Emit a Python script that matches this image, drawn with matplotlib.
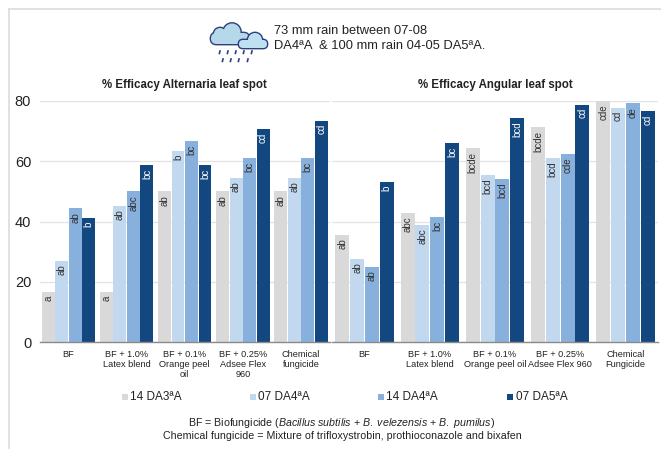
#!/usr/bin/env python3
import matplotlib
matplotlib.use('Agg')
import matplotlib.pyplot as plt
from matplotlib.patches import Circle, FancyBboxPatch, Rectangle

plt.rcParams['font.family'] = ['Liberation Sans', 'DejaVu Sans']
plt.rcParams['mathtext.fontset'] = 'custom'
plt.rcParams['mathtext.it'] = 'Liberation Sans:italic'
plt.rcParams['mathtext.rm'] = 'Liberation Sans'

W, H = 661, 449

# ── data ──────────────────────────────────────────────────────────────────────
series = ['14 DA3ªA', '07 DA4ªA', '14 DA4ªA', '07 DA5ªA']

cats_left = ['BF', 'BF + 1.0%\nLatex blend', 'BF + 0.1%\nOrange peel\noil',
             'BF + 0.25%\nAdsee Flex\n960', 'Chemical\nfungicide']
cats_right = ['BF', 'BF + 1.0%\nLatex blend', 'BF + 0.1%\nOrange peel oil',
              'BF + 0.25%\nAdsee Flex 960', 'Chemical\nFungicide']

alt_da3 = [16.7, 16.7, 50.0, 50.0, 50.0]
alt_da4a = [27.0, 45.3, 63.5, 54.5, 54.5]
alt_da4b = [44.4, 50.0, 66.7, 61.0, 61.0]
alt_da5 = [41.2, 58.8, 58.8, 70.6, 73.5]
alt_letters = [['a', 'a', 'ab', 'ab', 'ab'],
               ['ab', 'ab', 'b', 'ab', 'ab'],
               ['ab', 'abc', 'bc', 'bc', 'bc'],
               ['b', 'bc', 'bc', 'cd', 'cd']]

ang_da3 = [35.6, 42.8, 64.3, 71.4, 80.0]
ang_da4a = [27.6, 38.8, 55.5, 61.1, 77.8]
ang_da4b = [24.9, 41.5, 54.1, 62.4, 79.2]
ang_da5 = [53.0, 66.0, 74.5, 78.8, 76.6]
ang_letters = [['ab', 'abc', 'bcde', 'bcde', 'cde'],
               ['ab', 'abc', 'bcd', 'bcd', 'cd'],
               ['ab', 'bc', 'bcd', 'cde', 'de'],
               ['b', 'bc', 'bcd', 'cd', 'cd']]

# ── colours ───────────────────────────────────────────────────────────────────
COLORS = ['#D9D9D9', '#C2D8EE', '#88B0DC', '#13477F']
LABEL_COLORS = ['#333333', '#333333', '#333333', '#FFFFFF']
C_TEXT = '#222222'
C_GRID = '#E2E2E2'
C_BORDER = '#DCDCDC'
C_ICON = '#2E3F7F'

fig = plt.figure(figsize=(W / 100, H / 100), dpi=100)


def px_axes(x0, x1, y_top, y_bottom):
    return fig.add_axes([x0 / W, 1 - y_bottom / H, (x1 - x0) / W, (y_bottom - y_top) / H])


def draw_panel(ax, cats, values, letters, title, bar_frac):
    n = len(series)
    w = bar_frac / n
    for i, vals in enumerate(values):
        for j, v in enumerate(vals):
            x = j + (i - (n - 1) / 2) * w
            ax.bar(x, v, width=w * 0.95, color=COLORS[i], zorder=2)
            ax.text(x, v - 1.2, letters[i][j], rotation=90, ha='center', va='top',
                    fontsize=7, color=LABEL_COLORS[i], zorder=3)
    ax.set_xlim(-0.5, len(cats) - 0.5)
    ax.set_ylim(0, 80)
    ax.set_yticks([0, 20, 40, 60, 80])
    ax.yaxis.grid(True, color=C_GRID, lw=0.9, zorder=0)
    ax.set_axisbelow(True)
    ax.set_xticks(range(len(cats)))
    ax.set_xticklabels(cats, fontsize=6.6, color=C_TEXT, linespacing=1.12)
    ax.tick_params(axis='x', length=0, pad=6)
    ax.tick_params(axis='y', length=0, labelsize=10.5, labelcolor=C_TEXT, pad=6)
    for s in ['top', 'left', 'right']:
        ax.spines[s].set_visible(False)
    ax.spines['bottom'].set_color('#8A8A8A')
    ax.spines['bottom'].set_linewidth(1.0)
    ax.text(0.5, 1.066, title, transform=ax.transAxes, ha='center', va='center',
            fontsize=8.3, fontweight='bold', color=C_TEXT)


ax_l = px_axes(39.5, 330, 101, 342)
draw_panel(ax_l, cats_left, [alt_da3, alt_da4a, alt_da4b, alt_da5], alt_letters,
           '% Efficacy Alternaria leaf spot', 0.93)

ax_r = px_axes(332, 658, 101, 342)
draw_panel(ax_r, cats_right, [ang_da3, ang_da4a, ang_da4b, ang_da5], ang_letters,
           '% Efficacy Angular leaf spot', 0.91)
ax_r.tick_params(axis='y', labelleft=False)

# ── overlay in image pixels: border, legend, notes, rain icon ─────────────────
ov = fig.add_axes([0, 0, 1, 1], zorder=5)
ov.set_xlim(0, W)
ov.set_ylim(H, 0)
ov.axis('off')
ov.patch.set_alpha(0)

ov.plot([9, 9], [9, H], color=C_BORDER, lw=1.2)
ov.plot([9, W], [9, 9], color=C_BORDER, lw=1.2)

leg_x = [122, 250, 378, 507]
for lx, name, c in zip(leg_x, series, COLORS):
    ov.add_patch(Rectangle((lx, 394), 6, 6, color=c, lw=0))
    ov.text(lx + 8.5, 397, name, fontsize=8.5, va='center', ha='left', color=C_TEXT)

ov.text(342, 423, r'BF = Biofungicide $\mathit{(Bacillus\ subtilis\ {+}\ B.\ velezensis\ {+}\ B.\ pumilus)}$',
        fontsize=7.7, ha='center', va='center', color=C_TEXT)
ov.text(342, 436, 'Chemical fungicide = Mixture of trifloxystrobin, prothioconazole and bixafen',
        fontsize=7.7, ha='center', va='center', color=C_TEXT)

ov.text(274, 30.5, '73 mm rain between 07-08', fontsize=9.3, va='center', color=C_TEXT)
ov.text(274, 46, 'DA4ªA  & 100 mm rain 04-05 DA5ªA.', fontsize=9.3, va='center', color=C_TEXT)


# cloud icon: an outline layer with a fill layer on top of it
def cloud(blobs, base, fill, z):
    bx, by, bw, bh = base
    for fc, ec, lw, zz in [(C_ICON, C_ICON, 2.0, z), (fill, fill, 0, z + 1)]:
        for x, y, r in blobs:
            ov.add_patch(Circle((x, y), r, fc=fc, ec=ec, lw=lw, zorder=zz))
        ov.add_patch(FancyBboxPatch((bx, by), bw, bh, boxstyle='round,pad=0,rounding_size=%g' % (bh / 2),
                                    fc=fc, ec=ec, lw=lw, zorder=zz))


cloud([(220, 34, 6), (232, 32, 8.5)], (211, 33, 38, 11), '#B5D8EA', 6)
cloud([(255, 40, 7)], (239, 40, 28, 8), '#BFE0F0', 8)

drops_x = [220, 228, 236, 244, 252, 223, 231, 239, 248]
drops_y = [51, 51, 51, 51, 51, 59, 59, 59, 59]
for dx, dy in zip(drops_x, drops_y):
    ov.plot([dx, dx - 0.6], [dy, dy + 2.4], color=C_ICON, lw=1.2, zorder=6)

plt.savefig('out.png', dpi=100)
